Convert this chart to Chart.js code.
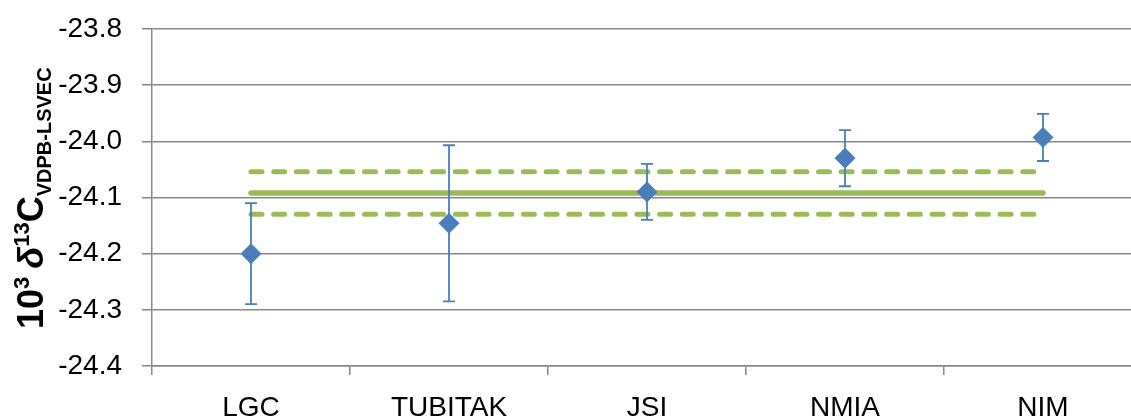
<!DOCTYPE html>
<html>
<head>
<meta charset="utf-8">
<script src="https://cdn.jsdelivr.net/npm/chart.js@4/dist/chart.umd.min.js"></script>
<style>
    body { margin: 0; background: white; overflow: hidden; }
    #wrap { width: 1142px; height: 418px; }
</style>
</head>
<body>
<div id="wrap"><canvas id="chartDelta" width="1142" height="418"></canvas></div>
<script>
let labs = ["LGC", "TUBITAK", "JSI", "NMIA", "NIM"]
let values = [-24.200, -24.146, -24.090, -24.030, -23.993]
let uncertainties = [0.090, 0.139, 0.050, 0.050, 0.042]
let refValue = -24.092
let refUpper = -24.054
let refLower = -24.130
let yTicks = [-24.4, -24.3, -24.2, -24.1, -24.0, -23.9, -23.8]

const blue = "#4a7ebb"
const green = "#9bbb59"
const gridGray = "#878787"
const tickFont = { family: "Liberation Sans", size: 28 }

let refLine = (v) => [{ x: labs[0], y: v }, { x: labs[labs.length - 1], y: v }]

let errorBars = {
    id: "errorBars",
    beforeDatasetDraw: (chart, args) => {
        if (args.index !== 0) return
        let ctx = chart.ctx
        let x = chart.scales.x
        let y = chart.scales.y
        ctx.save()
        ctx.strokeStyle = blue
        ctx.lineWidth = 1.8
        for (let i = 0; i < values.length; i++) {
            let px = x.getPixelForValue(i)
            let top = y.getPixelForValue(values[i] + uncertainties[i])
            let bottom = y.getPixelForValue(values[i] - uncertainties[i])
            ctx.beginPath()
            ctx.moveTo(px, top)
            ctx.lineTo(px, bottom)
            ctx.moveTo(px - 6, top)
            ctx.lineTo(px + 6, top)
            ctx.moveTo(px - 6, bottom)
            ctx.lineTo(px + 6, bottom)
            ctx.stroke()
        }
        ctx.restore()
    }
}

let axisTitle = {
    id: "axisTitle",
    afterDraw: (chart) => {
        let ctx = chart.ctx
        ctx.save()
        ctx.translate(43, 329)
        ctx.rotate(-Math.PI / 2)
        ctx.fillStyle = "#000"
        ctx.textBaseline = "alphabetic"
        let x = 0
        let run = (text, font, dy) => {
            ctx.font = font
            ctx.fillText(text, x, dy)
            x += ctx.measureText(text).width
        }
        run("10", "bold 36px 'Liberation Sans'", 0)
        run("3", "bold 22px 'Liberation Sans'", -14)
        x += 8
        run("δ", "italic bold 36px 'Liberation Sans'", 0)
        run("13", "bold 22px 'Liberation Sans'", -14)
        run("C", "bold 36px 'Liberation Sans'", 0)
        run("VDPB-LSVEC", "bold 20px 'Liberation Sans'", 8)
        ctx.restore()
    }
}

window.addEventListener("load", () => {
    new Chart(document.getElementById("chartDelta"), {
        type: "line",
        data: {
            labels: labs,
            datasets: [
                {
                    label: "Results",
                    data: values,
                    showLine: false,
                    pointStyle: "rectRot",
                    pointRadius: 10,
                    pointBackgroundColor: blue,
                    pointBorderColor: blue,
                    pointBorderWidth: 1,
                    order: 0
                },
                {
                    label: "Reference",
                    data: refLine(refValue),
                    borderColor: green,
                    borderWidth: 5.5,
                    borderCapStyle: "round",
                    pointRadius: 0,
                    order: 1
                },
                {
                    label: "Upper",
                    data: refLine(refUpper),
                    borderColor: green,
                    borderWidth: 5,
                    borderDash: [11, 11.7],
                    borderCapStyle: "round",
                    pointRadius: 0,
                    order: 2
                },
                {
                    label: "Lower",
                    data: refLine(refLower),
                    borderColor: green,
                    borderWidth: 5,
                    borderDash: [11, 11.7],
                    borderCapStyle: "round",
                    pointRadius: 0,
                    order: 3
                }
            ]
        },
        options: {
            responsive: false,
            animation: false,
            // canvas is wider than the window: the plot runs on past the right edge
            layout: { autoPadding: false, padding: { top: 29, left: 0, right: 0, bottom: 0 } },
            plugins: {
                legend: { display: false },
                tooltip: { enabled: false }
            },
            scales: {
                x: {
                    offset: true,
                    grid: {
                        offset: true,
                        drawOnChartArea: false,
                        drawTicks: true,
                        tickLength: 9,
                        color: gridGray,
                        lineWidth: 1.5
                    },
                    border: { display: true, color: gridGray, width: 1.5 },
                    ticks: {
                        color: "#000",
                        font: tickFont,
                        padding: 16,
                        maxRotation: 0,
                        autoSkip: false
                    },
                    afterFit: (scale) => {
                        scale.height = 52
                        scale.paddingLeft = 0
                        scale.paddingRight = 0
                    }
                },
                y: {
                    min: yTicks[0],
                    max: yTicks[yTicks.length - 1],
                    afterBuildTicks: (scale) => {
                        scale.ticks = yTicks.map(v => ({ value: v }))
                    },
                    grid: {
                        color: gridGray,
                        lineWidth: 1.5,
                        tickLength: 10
                    },
                    border: { display: true, color: gridGray, width: 1.5 },
                    ticks: {
                        color: "#000",
                        font: tickFont,
                        padding: 20,
                        callback: (v) => v.toFixed(1)
                    },
                    afterFit: (scale) => {
                        scale.width = 152
                        scale.paddingTop = 0
                        scale.paddingBottom = 0
                    }
                }
            }
        },
        plugins: [errorBars, axisTitle]
    })
})
</script>
</body>
</html>
